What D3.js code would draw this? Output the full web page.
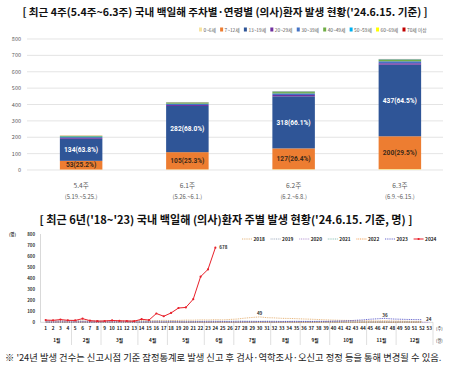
<!DOCTYPE html>
<html>
<head>
<meta charset="utf-8">
<script src="https://cdn.jsdelivr.net/npm/d3@7"></script>
<style>
  body { margin: 0; background: #fff; }
  svg { display: block; font-family: "Noto Sans CJK KR", "Noto Sans", sans-serif; }
</style>
</head>
<body>
<div id="chart"></div>
<script>
const W = 450, H = 370;

// ---- top chart data ----
const barWeeks = ["5.4주", "6.1주", "6.2주", "6.3주"];
const barRanges = ["(5.19.~5.25.)", "(5.26.~6.1.)", "(6.2.~6.8.)", "(6.9.~6.15.)"];
const ageGroups = ["0~6세", "7~12세", "13~19세", "20~29세", "30~39세", "40~49세", "50~59세", "60~69세", "70세 이상"];
const ageColors = ["#f6e3a1", "#ed7d31", "#2f5597", "#7030a0", "#4472c4", "#70ad47", "#00b0f0", "#ffff00", "#c00000"];
const age0_6 = [3, 4, 5, 6];
const age7_12 = [53, 105, 127, 200];
const age13_19 = [134, 282, 318, 437];
const age20_29 = [5, 6, 8, 9];
const age30_39 = [6, 8, 10, 12];
const age40_49 = [5, 6, 8, 9];
const age50_59 = [2, 2, 3, 3];
const age60_69 = [1, 1, 1, 1];
const age70 = [1, 1, 1, 1];
const topTicks = [0, 100, 200, 300, 400, 500, 600, 700, 800];

// ---- bottom chart data ----
const years = ["2018", "2019", "2020", "2021", "2022", "2023", "2024"];
const yearColors = ["#e0a35c", "#8c9bb0", "#a37cc8", "#6fb3a5", "#f08a2c", "#4040c0", "#e8202a"];
const y2018 = [10,12,9,11,13,10,12,14,11,13,15,12,14,16,13,15,18,16,17,20,19,22,21,24,22,26,30,38,44,49,42,40,36,35,33,30,28,25,22,20,18,17,15,14,13,12,14,12,11,10,9,8];
const y2019 = [14,12,15,13,11,12,10,13,11,12,9,10,11,9,10,12,10,11,9,10,8,9,10,11,9,10,12,11,10,9,11,10,8,9,10,8,9,7,8,9,7,8,6,7,8,6,7,5,6,7,5,6];
const y2020 = [9,10,8,11,9,7,6,8,5,4,3,2,2,1,2,1,1,2,1,1,0,1,1,2,1,0,1,1,0,1,1,0,1,0,1,1,0,0,1,0,1,0,0,1,0,1,0,0,1,0,0,1,0];
const y2021 = [1,0,0,1,0,0,0,1,0,0,1,0,0,0,1,0,0,0,1,0,0,1,0,0,0,1,0,0,0,0,1,0,0,1,0,0,0,1,0,0,0,0,1,0,0,1,0,0,0,1,0,0];
const y2022 = [0,1,0,0,1,0,1,0,0,0,1,0,1,0,0,1,0,0,1,0,1,0,0,1,0,0,1,0,1,0,0,1,0,1,0,0,1,0,2,1,0,1,1,0,2,1,1,0,2,1,1,2];
const y2023 = [2,1,3,2,2,3,1,2,3,2,3,4,2,3,3,4,3,5,4,3,4,5,4,5,6,5,4,6,5,7,6,5,6,7,6,8,7,9,8,10,12,14,18,22,28,32,36,30,28,26,25,24];
const y2024 = [20,18,25,18,17,33,15,10,12,17,13,12,10,28,20,80,55,85,130,135,210,415,481,678];
const weekNums = d3.range(1, 54);
const monthNames = ["1월","2월","3월","4월","5월","6월","7월","8월","9월","10월","11월","12월"];
const monthWeeks = [4, 4, 5, 4, 5, 4, 5, 4, 4, 5, 4, 5];
const lineTicks = [0, 100, 200, 300, 400, 500, 600, 700, 800];
const peakLabels = [{ year: "2018", week: 30 }, { year: "2023", week: 47 }];

const svg = d3.select("#chart").append("svg").attr("width", W).attr("height", H);

// ================= top chart =================
svg.append("text")
  .attr("x", 225).attr("y", 16)
  .attr("text-anchor", "middle")
  .attr("font-size", 10.6).attr("font-weight", 700).attr("fill", "#111")
  .text("[ 최근 4주(5.4주~6.3주) 국내 백일해 주차별·연령별 (의사)환자 발생 현황('24.6.15. 기준) ]");

// legend
let lx = 199;
ageGroups.forEach((g, i) => {
  svg.append("rect").attr("x", lx).attr("y", 27.5).attr("width", 3).attr("height", 4).attr("fill", ageColors[i]);
  const t = svg.append("text").attr("x", lx + 4.5).attr("y", 31.5)
    .attr("font-size", 4.8).attr("fill", "#595959").text(g);
  lx += 4.5 + t.node().getComputedTextLength() + 4.2;
});

const yTop = d3.scaleLinear().domain([0, 800]).range([170, 39]);
const xTop = d3.scaleBand().domain(barWeeks).range([28, 453]).paddingInner(0.6).paddingOuter(0.3);

const gridTop = svg.append("g");
gridTop.selectAll("line").data(topTicks).join("line")
  .attr("x1", 27).attr("x2", 443)
  .attr("y1", d => yTop(d)).attr("y2", d => yTop(d))
  .attr("stroke", "#d9d9d9").attr("stroke-width", 0.7);
gridTop.selectAll("text").data(topTicks).join("text")
  .attr("x", 21).attr("y", d => yTop(d) + 2)
  .attr("text-anchor", "end").attr("font-size", 5.5).attr("fill", "#595959")
  .text(d => d);

const table = barWeeks.map((w, i) => {
  const row = { week: w };
  [age0_6, age7_12, age13_19, age20_29, age30_39, age40_49, age50_59, age60_69, age70]
    .forEach((arr, j) => row[ageGroups[j]] = arr[i]);
  return row;
});
const stack = d3.stack().keys(ageGroups)(table);

svg.append("g").selectAll("g").data(stack).join("g")
  .attr("fill", (d, i) => ageColors[i])
  .selectAll("rect").data(d => d).join("rect")
  .attr("x", d => xTop(d.data.week))
  .attr("width", xTop.bandwidth())
  .attr("y", d => yTop(d[1]))
  .attr("height", d => yTop(d[0]) - yTop(d[1]));

// segment labels for 7~12 and 13~19
[1, 2].forEach(k => {
  svg.append("g").selectAll("text").data(stack[k]).join("text")
    .attr("x", d => xTop(d.data.week) + xTop.bandwidth() / 2)
    .attr("y", d => yTop((d[0] + d[1]) / 2) + 2.3)
    .attr("text-anchor", "middle")
    .attr("font-family", "Roboto, sans-serif")
    .attr("font-size", 6.6).attr("font-weight", 700)
    .attr("fill", k === 2 ? "#ffffff" : "#3b2a1a")
    .text(d => {
      const total = d3.sum(ageGroups, g => d.data[g]);
      const v = d[1] - d[0];
      return v + "(" + (v / total * 100).toFixed(1) + "%)";
    });
});

svg.append("g").selectAll("text").data(barWeeks).join("text")
  .attr("x", d => xTop(d) + xTop.bandwidth() / 2).attr("y", 188)
  .attr("text-anchor", "middle").attr("font-size", 6.6).attr("fill", "#595959")
  .text(d => d);
svg.append("g").selectAll("text").data(barRanges).join("text")
  .attr("x", (d, i) => xTop(barWeeks[i]) + xTop.bandwidth() / 2).attr("y", 199)
  .attr("text-anchor", "middle").attr("font-size", 5.8).attr("fill", "#595959")
  .text(d => d);

// ================= bottom chart =================
svg.append("text")
  .attr("x", 226).attr("y", 224)
  .attr("text-anchor", "middle")
  .attr("font-size", 11.1).attr("font-weight", 700).attr("fill", "#111")
  .text("[ 최근 6년('18~'23) 국내 백일해 (의사)환자 주별 발생 현황('24.6.15. 기준, 명) ]");

const yB = d3.scaleLinear().domain([0, 800]).range([322.3, 234.3]);
const xB = d3.scaleBand().domain(weekNums).range([42, 433]);
const cx = w => xB(w) + xB.bandwidth() / 2;

svg.append("text").attr("x", 9).attr("y", 236).attr("font-size", 4.2).attr("font-weight", 700).attr("fill", "#333").text("(명)");
svg.append("g").selectAll("text").data(lineTicks).join("text")
  .attr("x", 35).attr("y", d => yB(d) + 1.6)
  .attr("text-anchor", "end").attr("font-size", 4.4).attr("font-weight", 700).attr("fill", "#333")
  .text(d => d);

svg.append("line").attr("x1", 40.5).attr("x2", 40.5).attr("y1", 234).attr("y2", 322.3).attr("stroke", "#bfbfbf").attr("stroke-width", 0.6);
svg.append("line").attr("x1", 40.5).attr("x2", 433).attr("y1", 322.3).attr("y2", 322.3).attr("stroke", "#bfbfbf").attr("stroke-width", 0.6);

// week labels
svg.append("g").selectAll("text").data(weekNums).join("text")
  .attr("x", d => cx(d)).attr("y", 330)
  .attr("text-anchor", "middle").attr("font-size", 4.7).attr("font-weight", 700).attr("fill", "#222")
  .text(d => d);

// month separators and labels
let startW = 1;
const monthPos = monthWeeks.map((n, i) => {
  const s = startW; startW += n;
  return { name: monthNames[i], start: s, end: s + n - 1 };
});
svg.append("g").selectAll("line").data(monthPos).join("line")
  .attr("x1", d => xB(d.end) + xB.bandwidth()).attr("x2", d => xB(d.end) + xB.bandwidth())
  .attr("y1", 322.3).attr("y2", 345)
  .attr("stroke", "#bfbfbf").attr("stroke-width", 0.5);
svg.append("g").selectAll("text").data(monthPos).join("text")
  .attr("x", d => (xB(d.start) + xB(d.end) + xB.bandwidth()) / 2).attr("y", 342)
  .attr("text-anchor", "middle").attr("font-size", 4.7).attr("font-weight", 700).attr("fill", "#222")
  .text(d => d.name);
svg.append("text").attr("x", 436).attr("y", 330).attr("font-size", 4.2).attr("fill", "#333").text("(주)");
svg.append("text").attr("x", 436).attr("y", 342).attr("font-size", 4.2).attr("fill", "#333").text("(월)");

// lines
const series = [y2018, y2019, y2020, y2021, y2022, y2023, y2024];
const line = d3.line().x((d, i) => cx(i + 1)).y(d => yB(d));
series.forEach((s, k) => {
  const last = k === series.length - 1;
  svg.append("path").datum(s)
    .attr("d", line).attr("fill", "none")
    .attr("stroke", yearColors[k])
    .attr("stroke-width", last ? 1 : 0.8)
    .attr("stroke-dasharray", last ? null : "1,0.8");
});
svg.append("g").selectAll("circle").data(y2024).join("circle")
  .attr("cx", (d, i) => cx(i + 1)).attr("cy", d => yB(d)).attr("r", 1.1)
  .attr("fill", yearColors[6]);

// value labels
svg.append("text").attr("x", cx(y2024.length) + 4).attr("y", yB(y2024[y2024.length - 1]) + 1.5)
  .attr("font-size", 4.6).attr("font-weight", 700).attr("fill", "#333").text(y2024[y2024.length - 1]);
peakLabels.forEach(p => {
  const s = series[years.indexOf(p.year)];
  svg.append("text").attr("x", cx(p.week)).attr("y", yB(s[p.week - 1]) - 1.5)
    .attr("text-anchor", "middle").attr("font-size", 4.6).attr("font-weight", 700).attr("fill", "#333")
    .text(s[p.week - 1]);
});
svg.append("text").attr("x", cx(y2023.length) + 4).attr("y", yB(y2023[y2023.length - 1]) + 1.5)
  .attr("font-size", 4.6).attr("font-weight", 700).attr("fill", "#333").text(y2023[y2023.length - 1]);

// legend bottom
const legB = svg.append("g");
years.forEach((y, i) => {
  const x0 = 242 + i * 28.6;
  legB.append("line").attr("x1", x0).attr("x2", x0 + 10).attr("y1", 239).attr("y2", 239)
    .attr("stroke", yearColors[i]).attr("stroke-width", i === 6 ? 1 : 0.8)
    .attr("stroke-dasharray", i === 6 ? null : "1,0.8");
  if (i === 6) legB.append("circle").attr("cx", x0 + 5).attr("cy", 239).attr("r", 1.1).attr("fill", yearColors[i]);
  legB.append("text").attr("x", x0 + 11.5).attr("y", 240.7)
    .attr("font-size", 4.8).attr("font-weight", 700).attr("fill", "#222").text(y);
});

// note
svg.append("text").attr("x", 5).attr("y", 361)
  .attr("font-size", 9.3).attr("fill", "#222")
  .text("※ '24년 발생 건수는 신고시점 기준 잠정통계로 발생 신고 후 검사·역학조사·오신고 정정 등을 통해 변경될 수 있음.");
</script>
</body>
</html>
